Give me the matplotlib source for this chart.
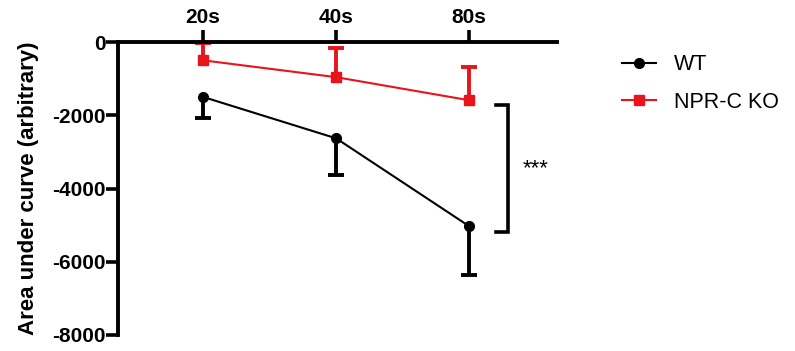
import matplotlib.pyplot as plt
import numpy as np

plt.rcParams['font.family'] = ['Liberation Sans', 'DejaVu Sans']
plt.rcParams['axes.unicode_minus'] = False

# values
times = ['20s', '40s', '80s']
wt_mean = [-1500, -2630, -5030]
wt_sem = [580, 1000, 1330]          # drawn downward only
ko_mean = [-500, -960, -1590]
ko_sem = [470, 790, 900]            # drawn upward only

black = '#000000'
red = '#e8141b'

fig = plt.figure(figsize=(7.95, 3.51), dpi=100)
ax = fig.add_axes([0.1484, 0.0456, 0.5522, 0.8347])

x = np.arange(len(times))
wt_mean = np.array(wt_mean)
ko_mean = np.array(ko_mean)

# error bars (one-sided)
ax.vlines(x, wt_mean, wt_mean - np.array(wt_sem), color=black, lw=2.8, zorder=2)
ax.plot(x, wt_mean - np.array(wt_sem), ls='none', marker='_', ms=12, mew=2.8, color=black, zorder=2)
ax.vlines(x, ko_mean, ko_mean + np.array(ko_sem), color=red, lw=2.8, zorder=2)
ax.plot(x, ko_mean + np.array(ko_sem), ls='none', marker='_', ms=12, mew=2.8, color=red, zorder=2)

ax.plot(x, wt_mean, color=black, lw=1.5, marker='o', ms=7, label='WT', zorder=3)
ax.plot(x, ko_mean, color=red, lw=1.5, marker='s', ms=7, label='NPR-C KO', zorder=3)

# significance bracket
bx0, bx1 = 2.2, 2.29
btop, bbot = -1720, -5200
ax.plot([bx0, bx1, bx1, bx0], [btop, btop, bbot, bbot], color=black, lw=2.6,
        solid_joinstyle='miter', clip_on=False)
ax.text(2.5, (btop + bbot) / 2, '***', ha='center', va='center', fontsize=16)

ax.set_xlim(-0.64, 2.66)
ax.set_ylim(-8000, 0)
ax.set_yticks([0, -2000, -4000, -6000, -8000])
ax.set_xticks(x)
ax.set_xticklabels(times)

ax.xaxis.tick_top()
for s in ['right', 'bottom']:
    ax.spines[s].set_visible(False)
for s in ['left', 'top']:
    ax.spines[s].set_linewidth(2.8)
ax.spines['top'].set_position(('data', 0))
ax.tick_params(axis='both', width=2.6, length=8.5, labelsize=15)
ax.tick_params(axis='y', pad=0.5)
ax.tick_params(axis='x', pad=2.5)
for lab in ax.get_xticklabels() + ax.get_yticklabels():
    lab.set_fontweight('bold')

ax.set_ylabel('Area under curve (arbitrary)', fontsize=16, fontweight='bold', labelpad=9)

fig.legend(loc='upper left', bbox_to_anchor=(0.758, 0.9), frameon=False,
           fontsize=15.5, handlelength=1.6, handletextpad=0.8, labelspacing=0.75)

plt.savefig('out.png', dpi=100)
